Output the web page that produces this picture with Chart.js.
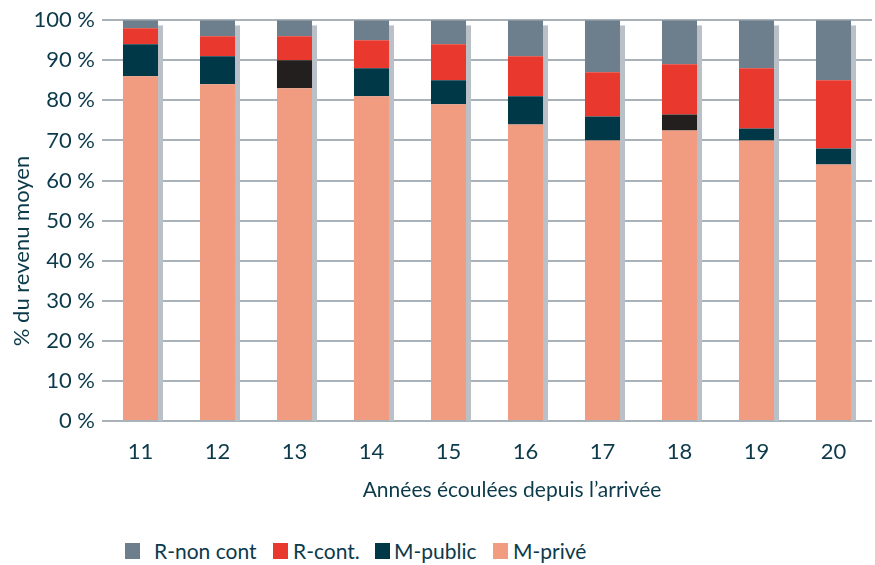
<!DOCTYPE html>
<html>
<head>
<meta charset="utf-8">
<script src="https://cdn.jsdelivr.net/npm/chart.js@4"></script>
<style>
  body { margin: 0; background: #fff; }
  #wrap { position: relative; width: 875px; height: 565px; }
  .leg-box { position: absolute; top: 543px; width: 15px; height: 16px; }
  .leg-text {
    position: absolute; top: 538px; line-height: 26px;
    font-family: Lato, "Open Sans", sans-serif; font-size: 21px; color: #0c3a4a;
  }
</style>
</head>
<body>
<div id="wrap">
  <canvas id="chart" width="875" height="525"></canvas>
</div>
<script>
// Years since arrival
const years = ["11", "12", "13", "14", "15", "16", "17", "18", "19", "20"];

// Shares of average income (%)
const mPrive = [86, 84, 83, 81, 79, 74, 70, 72.5, 70, 64];
const mPublic = [8, 7, 7, 7, 6, 7, 6, 4, 3, 4];
const rCont = [4, 5, 6, 7, 9, 10, 11, 12.5, 15, 17];
const rNonCont = [2, 4, 4, 5, 6, 9, 13, 11, 12, 15];

const yTicks = [0, 10, 20, 30, 40, 50, 60, 70, 80, 90, 100];

const textColor = "#0c3a4a";
const fontFamily = "Lato, 'Open Sans', sans-serif";

// M-public is drawn almost black for years 13 and 18
const mPublicColors = years.map((y) => (y === "13" || y === "18" ? "#231f1e" : "#003847"));

// grey "shadow" strip on the right side of each bar
const barShadow = {
  id: "barShadow",
  beforeDatasetsDraw(chart) {
    const meta = chart.getDatasetMeta(0);
    const yScale = chart.scales.y;
    const ctx = chart.ctx;
    ctx.save();
    ctx.fillStyle = "#bac0c7";
    meta.data.forEach((bar) => {
      const right = bar.x + bar.width / 2;
      const top = yScale.getPixelForValue(98.7);
      const bottom = yScale.getPixelForValue(0);
      ctx.fillRect(right, top, 5, bottom - top);
    });
    ctx.restore();
  },
};

// axis titles, placed where the original has them (not centred on the plot)
const axisTitles = {
  id: "axisTitles",
  afterDraw(chart) {
    const ctx = chart.ctx;
    ctx.save();
    ctx.fillStyle = textColor;
    ctx.textAlign = "center";
    ctx.textBaseline = "middle";
    ctx.font = "21px " + fontFamily;
    ctx.fillText("Années écoulées depuis l’arrivée", 512, 490);
    ctx.translate(22, 251);
    ctx.rotate(-Math.PI / 2);
    ctx.font = "22px " + fontFamily;
    ctx.fillText("% du revenu moyen", 0, 0);
    ctx.restore();
  },
};

const datasets = [
  { label: "M-privé", data: mPrive, backgroundColor: "#f19b80" },
  { label: "M-public", data: mPublic, backgroundColor: mPublicColors, legendColor: "#003847" },
  { label: "R-cont.", data: rCont, backgroundColor: "#e9382e" },
  { label: "R-non cont", data: rNonCont, backgroundColor: "#6d7f8d" },
];

const chart = new Chart(document.getElementById("chart").getContext("2d"), {
  type: "bar",
  data: {
    labels: years,
    datasets: datasets.map((d) => ({
      label: d.label,
      data: d.data,
      backgroundColor: d.backgroundColor,
      borderWidth: 0,
      categoryPercentage: 1,
      barPercentage: 0.455,
    })),
  },
  options: {
    responsive: false,
    animation: false,
    layout: { padding: { top: 20, right: 3, bottom: 8, left: 0 } },
    plugins: { legend: { display: false }, tooltip: { enabled: false } },
    scales: {
      x: {
        stacked: true,
        grid: { display: false },
        border: { display: false },
        ticks: { color: textColor, font: { family: fontFamily, size: 22 }, padding: 10 },
        afterFit(scale) { scale.height = 96; },
      },
      y: {
        stacked: true,
        min: 0,
        max: 100,
        afterBuildTicks(scale) { scale.ticks = yTicks.map((v) => ({ value: v })); },
        grid: { color: "#a9b1b9", lineWidth: 2, drawTicks: false },
        border: { display: false },
        ticks: {
          color: textColor,
          font: { family: fontFamily, size: 22 },
          padding: 7,
          callback: (v) => v + " %",
        },
        afterFit(scale) { scale.width = 102; },
      },
    },
  },
  plugins: [barShadow, axisTitles],
});

// legend below the chart, reversed order like the original
const legendPos = [
  { box: 125, text: 154 },
  { box: 273, text: 293 },
  { box: 375, text: 394 },
  { box: 493, text: 513 },
];
const wrap = document.getElementById("wrap");
datasets.slice().reverse().forEach((d, i) => {
  const box = document.createElement("div");
  box.className = "leg-box";
  box.style.left = legendPos[i].box + "px";
  box.style.background = d.legendColor || d.backgroundColor;
  const txt = document.createElement("div");
  txt.className = "leg-text";
  txt.style.left = legendPos[i].text + "px";
  txt.textContent = d.label;
  wrap.appendChild(box);
  wrap.appendChild(txt);
});
</script>
</body>
</html>
